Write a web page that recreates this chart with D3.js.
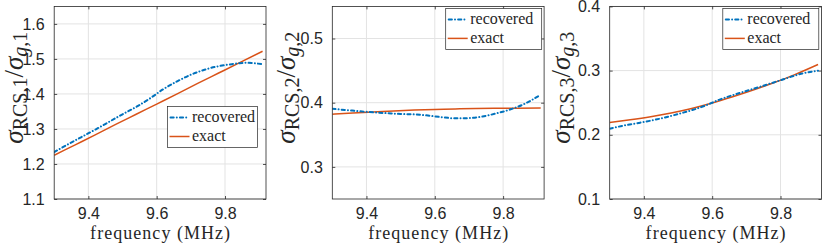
<!DOCTYPE html>
<html>
<head>
<meta charset="utf-8">
<script src="https://cdn.jsdelivr.net/npm/d3@7"></script>
<style>
  body { margin: 0; background: #fff; }
  svg { display: block; }
</style>
</head>
<body>
<div class="chart"></div>
<script>
// three panels: recovered vs exact normalised RCS

const freqRec = [9.30, 9.34, 9.38, 9.42, 9.46, 9.50, 9.54, 9.58, 9.62, 9.66, 9.70, 9.74, 9.78, 9.82, 9.86, 9.91]
const freqExact = [9.30, 9.36, 9.42, 9.48, 9.54, 9.60, 9.66, 9.72, 9.78, 9.84, 9.91]

const recovered1 = [1.234, 1.256, 1.277, 1.298, 1.320, 1.342, 1.363, 1.387, 1.414, 1.436, 1.455, 1.469, 1.479, 1.485, 1.489, 1.485]
const exact1 = [1.225, 1.254, 1.283, 1.313, 1.342, 1.371, 1.400, 1.430, 1.459, 1.488, 1.522]

const recovered2 = [0.3905, 0.3886, 0.3866, 0.3850, 0.3837, 0.3824, 0.3818, 0.3800, 0.3775, 0.3757, 0.3760, 0.3785, 0.3833, 0.3893, 0.3975, 0.4125]
const exact2 = [0.3820, 0.3840, 0.3855, 0.3872, 0.3885, 0.3895, 0.3903, 0.3910, 0.3913, 0.3915, 0.3917]

const recovered3 = [0.2095, 0.2142, 0.2180, 0.2220, 0.2268, 0.2323, 0.2383, 0.2455, 0.2545, 0.2617, 0.2683, 0.2748, 0.2815, 0.2885, 0.2950, 0.2999]
const exact3 = [0.2190, 0.2233, 0.2282, 0.2340, 0.2410, 0.2495, 0.2592, 0.2697, 0.2810, 0.2933, 0.3095]

const xDomain = [9.3, 9.92]
const xTicks = [9.4, 9.6, 9.8]
const yDomains = [[1.1, 1.65], [0.25, 0.55], [0.1, 0.4]]
const yTicks = [[1.1, 1.2, 1.3, 1.4, 1.5, 1.6], [0.3, 0.4, 0.5], [0.1, 0.2, 0.3, 0.4]]
const subscripts = ['1', '2', '3']
const legendLabels = ['recovered', 'exact']
const xLabel = 'frequency (MHz)'

const width = 822
const height = 246
const axisColor = '#262626'
const blue = '#0072BD'
const orange = '#D95319'
const recDash = '3.2,3.1,0.01,3.1'

const panels = [
  {left: 54.2, rec: recovered1, ex: exact1, ylabX: 22.5, legend: {x: 167.5, y: 106.5, w: 90}},
  {left: 332.3, rec: recovered2, ex: exact2, ylabX: 295, legend: {x: 445.7, y: 8.4, w: 96}},
  {left: 609.7, rec: recovered3, ex: exact3, ylabX: 570, legend: {x: 722.8, y: 8.4, w: 96}}
]
const pw = 211.8
const plotTop = 6.4
const plotBottom = 199

const svg = d3.select('.chart')
  .append('svg')
  .attr('width', width)
  .attr('height', height)
  .attr('viewBox', [0, 0, width, height])

panels.forEach((p, i) => {
  const x = d3.scaleLinear().domain(xDomain).range([p.left, p.left + pw])
  const y = d3.scaleLinear().domain(yDomains[i]).range([plotBottom, plotTop])
  const g = svg.append('g')

  g.append('clipPath').attr('id', 'clip' + i)
    .append('rect')
    .attr('x', p.left).attr('y', plotTop)
    .attr('width', pw).attr('height', plotBottom - plotTop)

  // grid
  g.append('g').selectAll('line')
    .data(xTicks)
    .enter().append('line')
      .attr('x1', d => x(d)).attr('x2', d => x(d))
      .attr('y1', plotTop).attr('y2', plotBottom)
      .attr('stroke', '#e3e3e3').attr('stroke-width', 1)
  g.append('g').selectAll('line')
    .data(yTicks[i])
    .enter().append('line')
      .attr('x1', p.left).attr('x2', p.left + pw)
      .attr('y1', d => y(d)).attr('y2', d => y(d))
      .attr('stroke', '#e3e3e3').attr('stroke-width', 1)

  // axes via d3.axis, inward ticks on all four sides
  const fmt = d3.format('.1f')
  const styleAxis = sel => {
    sel.select('.domain').remove()
    sel.selectAll('.tick line').attr('stroke', axisColor).attr('stroke-width', 0.8)
    sel.selectAll('.tick text')
      .attr('fill', axisColor)
      .attr('font-family', '"Liberation Sans", Arial, sans-serif')
      .attr('font-size', 16)
  }
  g.append('g')
    .attr('transform', `translate(0,${plotBottom})`)
    .call(d3.axisBottom(x).tickValues(xTicks).tickFormat(fmt).tickSizeInner(-3).tickPadding(9))
    .call(styleAxis)
  g.append('g')
    .attr('transform', `translate(0,${plotTop})`)
    .call(d3.axisTop(x).tickValues(xTicks).tickSizeInner(-3).tickFormat(''))
    .call(styleAxis)
  g.append('g')
    .attr('transform', `translate(${p.left},0)`)
    .call(d3.axisLeft(y).tickValues(yTicks[i]).tickFormat(fmt).tickSizeInner(-3).tickPadding(9.5))
    .call(styleAxis)
  g.append('g')
    .attr('transform', `translate(${p.left + pw},0)`)
    .call(d3.axisRight(y).tickValues(yTicks[i]).tickSizeInner(-3).tickFormat(''))
    .call(styleAxis)

  // lines
  const lineRec = d3.line().x((d, k) => x(freqRec[k])).y(d => y(d)).curve(d3.curveMonotoneX)
  const lineEx = d3.line().x((d, k) => x(freqExact[k])).y(d => y(d)).curve(d3.curveMonotoneX)
  const plot = g.append('g').attr('clip-path', `url(#clip${i})`)
  plot.append('path')
    .datum(p.ex)
    .attr('d', lineEx)
    .attr('fill', 'none').attr('stroke', orange).attr('stroke-width', 1.5)
  plot.append('path')
    .datum(p.rec)
    .attr('d', lineRec)
    .attr('fill', 'none').attr('stroke', blue).attr('stroke-width', 2)
    .attr('stroke-linecap', 'round')
    .attr('stroke-dasharray', recDash)

  // box
  g.append('rect')
    .attr('x', p.left).attr('y', plotTop)
    .attr('width', pw).attr('height', plotBottom - plotTop)
    .attr('fill', 'none').attr('stroke', axisColor).attr('stroke-width', 0.8)

  // x label
  g.append('text')
    .attr('x', p.left + pw / 2).attr('y', 238.5)
    .attr('text-anchor', 'middle')
    .attr('font-family', '"Liberation Serif", "Times New Roman", serif')
    .attr('font-size', 18)
    .attr('textLength', 140).attr('lengthAdjust', 'spacing')
    .attr('fill', axisColor)
    .text(xLabel)

  // y label  sigma_{RCS,i} / sigma_{g,i}
  const yl = g.append('text')
    .attr('transform', `translate(${p.ylabX},${(plotTop + plotBottom) / 2 - 15}) rotate(-90)`)
    .attr('text-anchor', 'middle')
    .attr('font-family', '"Liberation Serif", "Times New Roman", serif')
    .attr('fill', axisColor)
  yl.append('tspan').attr('font-size', 27).attr('font-style', 'italic').text('σ')
  yl.append('tspan').attr('font-size', 20).attr('dy', 4).text('RCS,' + subscripts[i])
  yl.append('tspan').attr('font-size', 27).attr('dy', -4).text('/')
  yl.append('tspan').attr('font-size', 27).attr('font-style', 'italic').text('σ')
  yl.append('tspan').attr('font-size', 20).attr('dy', 4).attr('font-style', 'italic').text('g')
  yl.append('tspan').attr('font-size', 20).text(',' + subscripts[i])

  // legend
  const lg = g.append('g').attr('transform', `translate(${p.legend.x},${p.legend.y})`)
  lg.append('rect')
    .attr('width', p.legend.w).attr('height', 41)
    .attr('fill', '#fff').attr('stroke', axisColor).attr('stroke-width', 0.7)
  const items = lg.selectAll('g')
    .data(legendLabels)
    .enter().append('g')
      .attr('transform', (d, k) => `translate(0,${11 + k * 19})`)
  items.append('line')
    .attr('x1', (d, k) => k === 0 ? 3 : 2).attr('x2', (d, k) => k === 0 ? 21 : 22)
    .attr('stroke', (d, k) => k === 0 ? blue : orange)
    .attr('stroke-width', (d, k) => k === 0 ? 2 : 1.5)
    .attr('stroke-linecap', (d, k) => k === 0 ? 'round' : 'butt')
    .attr('stroke-dasharray', (d, k) => k === 0 ? recDash : null)
  items.append('text')
    .attr('x', 24.5).attr('y', 4.5)
    .attr('font-family', '"Liberation Serif", "Times New Roman", serif')
    .attr('font-size', 16)
    .attr('fill', axisColor)
    .text(d => d)
})
</script>
</body>
</html>
